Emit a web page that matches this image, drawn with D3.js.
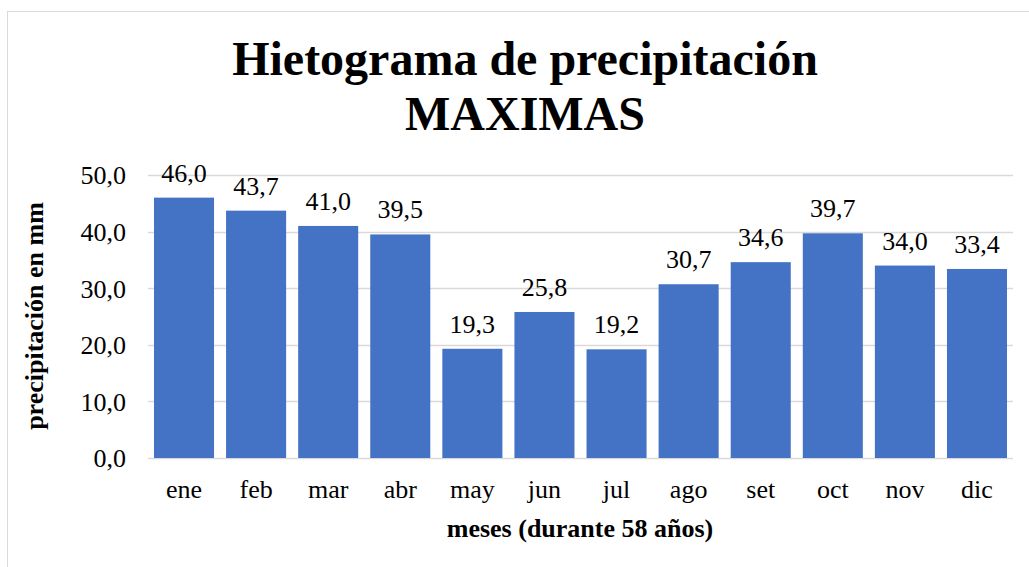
<!DOCTYPE html>
<html><head><meta charset="utf-8">
<script src="https://cdn.jsdelivr.net/npm/d3@7"></script>
<style>body{margin:0;background:#fff;} svg{display:block;} text{font-family:'Liberation Serif','Times New Roman',serif;}</style>
</head><body>
<svg id="c" width="1029" height="567"></svg>
<script>
const categories = ["ene","feb","mar","abr","may","jun","jul","ago","set","oct","nov","dic"];
const values = [46.0,43.7,41.0,39.5,19.3,25.8,19.2,30.7,34.6,39.7,34.0,33.4];
const yTicks = [0,10,20,30,40,50];
const titleLines = ["Hietograma de precipitación","MAXIMAS"];
const xTitle = "meses (durante 58 años)";
const yTitle = "precipitación en mm";

(function(){
const svg = d3.select("#c");
const font = "'Liberation Serif','Times New Roman',serif";
const fmt = v => v.toFixed(1).replace(".", ",");

svg.append("rect").attr("x",7.5).attr("y",11.5).attr("width",1100).attr("height",600)
  .attr("fill","#fff").attr("stroke","#d9d9d9").attr("stroke-width",1);

const pLeft = 148, pRight = 1013, pTop = 175, pBottom = 458;
const x = d3.scaleBand().domain(categories).range([pLeft,pRight]).paddingInner(0.167).paddingOuter(0.083);
const y = d3.scaleLinear().domain([0,50]).range([pBottom,pTop]);

// gridlines
svg.append("g").selectAll("line").data(yTicks).join("line")
  .attr("x1",pLeft).attr("x2",pRight)
  .attr("y1",d=>Math.round(y(d))+0.5).attr("y2",d=>Math.round(y(d))+0.5)
  .attr("stroke","#d9d9d9").attr("stroke-width",1.3);

// bars
svg.append("g").selectAll("rect").data(values).join("rect")
  .attr("x",(d,i)=>x(categories[i])).attr("width",x.bandwidth())
  .attr("y",d=>y(d)).attr("height",d=>y(0)-y(d))
  .attr("fill","#4472c4");

// data labels
svg.append("g").selectAll("text").data(values).join("text")
  .attr("x",(d,i)=>x(categories[i])+x.bandwidth()/2).attr("y",d=>y(d)-16)
  .attr("text-anchor","middle").style("font-family",font).style("font-size","26px").attr("fill","#000")
  .text(d=>fmt(d));

// y axis labels
const yAxis = d3.axisLeft(y).tickValues(yTicks).tickFormat(fmt).tickSize(0).tickPadding(22);
const ga = svg.append("g").attr("transform",`translate(${pLeft},0)`).call(yAxis);
ga.select(".domain").remove();
ga.selectAll("text").style("font-family",font).style("font-size","26px").attr("fill","#000").attr("dy","0.34em");

// x axis labels
const xAxis = d3.axisBottom(x).tickSize(0).tickPadding(0);
const gx = svg.append("g").attr("transform",`translate(0,${pBottom})`).call(xAxis);
gx.select(".domain").remove();
gx.selectAll("text").style("font-family",font).style("font-size","26px").attr("fill","#000").attr("y",40).attr("dy","0");

// titles
svg.append("g").selectAll("text").data(titleLines).join("text")
  .attr("x",525).attr("y",(d,i)=>75+i*55).attr("text-anchor","middle")
  .style("font-family",font).style("font-weight","bold").style("font-size","48px").attr("fill","#000")
  .text(d=>d);

svg.append("text").attr("x",580).attr("y",537).attr("text-anchor","middle")
  .style("font-family",font).style("font-weight","bold").style("font-size","26px").attr("fill","#000").text(xTitle);

svg.append("text").attr("transform","translate(43,316) rotate(-90)").attr("text-anchor","middle")
  .style("font-family",font).style("font-weight","bold").style("font-size","26px").attr("fill","#000").text(yTitle);
})();
</script>
</body></html>
